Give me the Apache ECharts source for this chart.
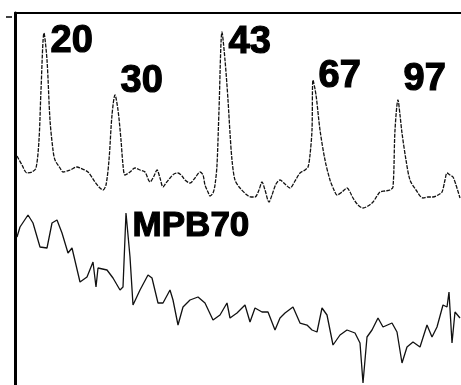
<!DOCTYPE html>
<html>
<head>
<meta charset="utf-8">
<style>
  html, body { margin: 0; padding: 0; background: #fff; }
  #blot { width: 461px; height: 385px; }
</style>
<script src="https://cdn.jsdelivr.net/npm/echarts@6/dist/echarts.min.js"></script>
</head>
<body>
<div id="blot"></div>
<script>
// positions along the strip (x) and band intensity (y)
const upperX = [2, 7, 12, 17, 21, 24, 26, 29, 32, 35, 38, 40, 45, 48, 55, 62, 65, 73, 80, 85, 88, 91, 94, 97, 100, 103, 106, 108, 110, 115, 120, 125, 130, 135, 139, 142, 145, 148, 151, 155, 159, 163, 167, 170, 175, 180, 185, 188, 190, 193, 195, 198, 200, 202, 204, 207, 210, 213, 215, 217, 220, 225, 232, 236, 240, 244, 247, 250, 254, 257, 261, 265, 270, 275, 280, 285, 290, 293, 295, 297, 298, 301, 305, 310, 315, 319, 322, 327, 332, 335, 338, 343, 348, 353, 358, 362, 365, 370, 375, 378, 380, 383, 385, 387, 391, 395, 401, 408, 413, 418, 423, 427, 430, 432, 435, 438, 441, 445]
const upperY = [229, 220, 212, 213, 217, 245, 295, 352, 325, 265, 235, 225, 217, 213, 215, 218, 217, 213, 203, 197, 195, 200, 225, 270, 290, 275, 245, 220, 210, 213, 217, 215, 213, 203, 209, 215, 207, 198, 202, 207, 211, 212, 209, 205, 202, 207, 213, 210, 200, 193, 189, 192, 200, 220, 275, 353, 325, 285, 252, 225, 205, 197, 190, 188, 188, 195, 203, 195, 183, 190, 201, 205, 201, 197, 204, 212, 215, 218, 230, 255, 305, 290, 255, 225, 205, 195, 190, 193, 197, 193, 187, 180, 177, 179, 183, 189, 193, 194, 195, 198, 255, 285, 270, 252, 225, 205, 195, 187, 188, 188, 190, 193, 205, 212, 210, 208, 200, 187]

const lowerX = [2, 5, 13, 18, 25, 32, 37, 42, 47, 53, 57, 65, 72, 78, 81, 83, 92, 98, 105, 108, 111, 115, 118, 125, 133, 137, 143, 148, 155, 158, 163, 168, 175, 183, 190, 198, 205, 212, 215, 222, 230, 235, 240, 247, 253, 260, 265, 270, 278, 285, 292, 297, 302, 307, 312, 315, 318, 325, 332, 340, 345, 348, 352, 357, 363, 368, 377, 382, 387, 392, 398, 405, 412, 417, 422, 428, 432, 434, 437, 440, 445]
const lowerY = [148, 158, 170, 162, 138, 137, 162, 165, 152, 132, 137, 103, 108, 123, 98, 117, 115, 107, 95, 98, 172, 128, 80, 95, 110, 107, 82, 82, 95, 85, 60, 78, 85, 88, 82, 65, 70, 82, 67, 72, 80, 63, 77, 73, 73, 55, 67, 72, 78, 62, 60, 55, 53, 77, 70, 55, 40, 50, 55, 52, 42, 2, 48, 55, 67, 58, 62, 53, 22, 38, 43, 38, 60, 48, 58, 80, 78, 93, 42, 73, 67]

// band labels (molecular weights) and the antigen name
const bandLabels = ['20', '30', '43', '67', '97']
const bandLabelPos = [[50, 22], [120, 62], [228, 23], [318, 57], [403, 60]]
const antigenLabel = 'MPB70'

const chart = echarts.init(document.getElementById('blot'))

const pairs = (xs, ys) => xs.map((x, i) => [x, ys[i]])

const labelFont = 'Liberation Sans, Arial, sans-serif'

const texts = bandLabels.map((t, i) => ({
  type: 'text',
  left: bandLabelPos[i][0],
  top: bandLabelPos[i][1],
  style: { text: t, font: 'bold 38px ' + labelFont, fill: '#000', stroke: '#000', lineWidth: 1.2 }
}))
texts.push({
  type: 'text',
  left: 132,
  top: 208,
  style: { text: antigenLabel, font: 'bold 35px ' + labelFont, fill: '#000', stroke: '#000', lineWidth: 1.2 }
})
// little tick mark at top left
texts.push({
  type: 'line',
  shape: { x1: 6, y1: 17, x2: 12, y2: 17 },
  style: { stroke: '#000', lineWidth: 1.5 }
})

const option = {
  animation: false,
  backgroundColor: '#fff',
  grid: { left: 15, right: 0, top: 13, bottom: 0 },
  xAxis: {
    type: 'value',
    position: 'top',
    min: 0,
    max: 446,
    axisLine: { show: true, onZero: false, lineStyle: { color: '#000', width: 2 } },
    axisTick: { show: false },
    axisLabel: { show: false },
    splitLine: { show: false }
  },
  yAxis: {
    type: 'value',
    min: 0,
    max: 372,
    axisLine: { show: true, lineStyle: { color: '#000', width: 3 } },
    axisTick: { show: false },
    axisLabel: { show: false },
    splitLine: { show: false }
  },
  series: [
    {
      name: 'upper',
      type: 'line',
      data: pairs(upperX, upperY),
      symbol: 'none',
      smooth: 0.3,
      lineStyle: { color: '#111', width: 1.3, type: [4, 1.2] }
    },
    {
      name: 'lower',
      type: 'line',
      data: pairs(lowerX, lowerY),
      symbol: 'none',
      lineStyle: { color: '#111', width: 1.3 }
    }
  ],
  graphic: texts
}

chart.setOption(option)
</script>
</body>
</html>
